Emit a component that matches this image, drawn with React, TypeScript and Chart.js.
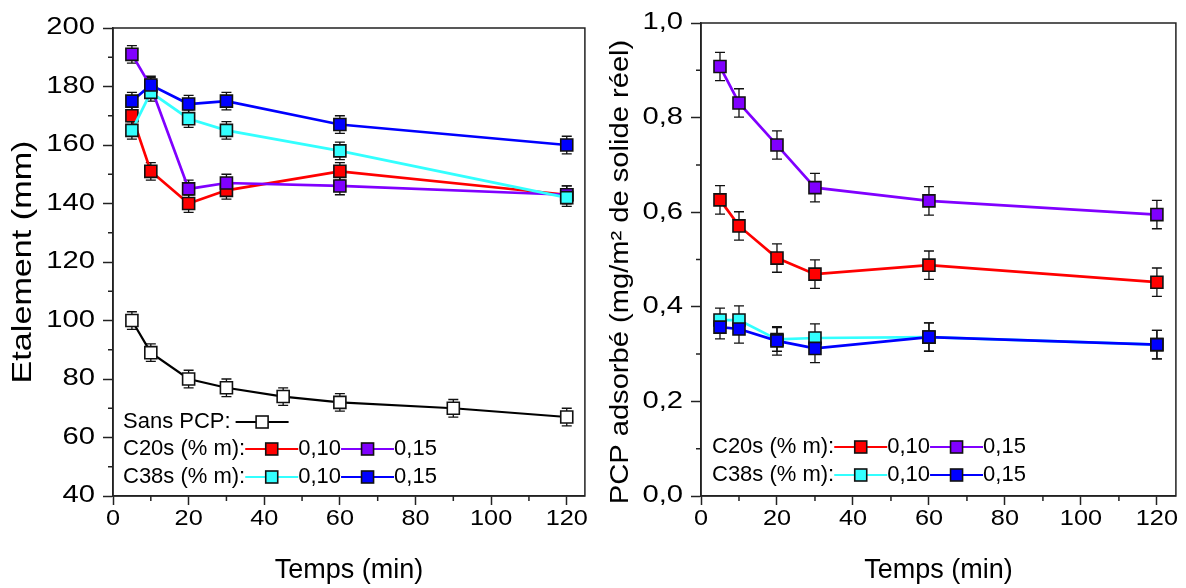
import React, { useEffect, useRef } from 'react';
import { Chart, registerables } from 'chart.js';

Chart.register(...registerables);

const FONT = '"Liberation Sans", Arial, Helvetica, sans-serif';

// ---------- Data: left panel (Etalement, mm) ----------
const timesSansPCP = [5, 10, 20, 30, 45, 60, 90, 120];
const etalSansPCP = [100, 89, 80, 77, 74, 72, 70, 67];
const errSansPCP = [3, 3, 3, 3, 3, 3, 3, 3];

const timesPCP = [5, 10, 20, 30, 60, 120];
const etalC20s010 = [170, 151, 140, 144.5, 151, 143];
const etalC20s015 = [191, 180, 145, 147, 146, 143];
const etalC38s010 = [165, 178, 169, 165, 158, 142];
const etalC38s015 = [175, 180.5, 174, 175, 167, 160];
const errEtalC20s010 = [3, 3, 3, 3, 3, 3];
const errEtalC20s015 = [3, 3, 3, 3, 3, 3];
const errEtalC38s010 = [3, 3, 3, 3, 3, 3];
const errEtalC38s015 = [3, 3, 3, 3, 3, 3];

// ---------- Data: right panel (PCP adsorbé, mg/m²) ----------
const adsC20s010 = [0.626, 0.571, 0.503, 0.469, 0.488, 0.452];
const adsC20s015 = [0.908, 0.831, 0.742, 0.652, 0.624, 0.595];
const adsC38s010 = [0.372, 0.372, 0.331, 0.334, 0.336, 0.32];
const adsC38s015 = [0.357, 0.353, 0.328, 0.312, 0.336, 0.32];
const errAdsC20s010 = [0.03, 0.03, 0.03, 0.03, 0.03, 0.03];
const errAdsC20s015 = [0.03, 0.03, 0.03, 0.03, 0.03, 0.03];
const errAdsC38s010 = [0.025, 0.03, 0.025, 0.03, 0.03, 0.03];
const errAdsC38s015 = [0.025, 0.03, 0.03, 0.03, 0.03, 0.03];

// ---------- Ticks & labels ----------
const xTicks = [0, 20, 40, 60, 80, 100, 120];
const xMinorTicks = [10, 30, 50, 70, 90, 110];
const yTicksLeft = [40, 60, 80, 100, 120, 140, 160, 180, 200];
const yMinorLeft = [50, 70, 90, 110, 130, 150, 170, 190];
const yTicksRight = [0, 0.2, 0.4, 0.6, 0.8, 1.0];
const yMinorRight = [0.1, 0.3, 0.5, 0.7, 0.9];

const xTitle = 'Temps (min)';
const yTitleLeft = 'Etalement (mm)';
const yTitleRight = 'PCP adsorbé (mg/m² de solide réel)';
const legendSans = 'Sans PCP:';
const legendC20s = 'C20s (% m):';
const legendC38s = 'C38s (% m):';
const legendLow = '0,10';
const legendHigh = '0,15';

const RED = '#ff0000';
const PURPLE = '#8000ff';
const CYAN = '#33ffff';
const BLUE = '#0000ff';
const BLACK = '#000000';

const pts = (xs: number[], ys: number[]) => xs.map((x, i) => ({ x, y: ys[i] }));

function mkDataset(label: string, xs: number[], ys: number[], errs: number[], line: string, fill: string) {
  return {
    label,
    data: pts(xs, ys),
    errors: errs,
    borderColor: line,
    backgroundColor: fill,
    borderWidth: 2.7,
    pointStyle: 'rect',
    pointRadius: 8.5,
    pointBorderColor: '#111',
    pointBackgroundColor: fill,
    pointBorderWidth: 1.6,
    tension: 0,
    fill: false,
  } as any;
}

type LegendItem = { text?: string; line?: string; fill?: string; gap?: number };

function drawMarker(ctx: CanvasRenderingContext2D, x: number, y: number, fill: string) {
  const s = 12;
  ctx.fillStyle = fill;
  ctx.fillRect(x - s / 2, y - s / 2, s, s);
  ctx.strokeStyle = '#111';
  ctx.lineWidth = 1.6;
  ctx.strokeRect(x - s / 2, y - s / 2, s, s);
}

function makeDecor(p: {
  yTicks: number[];
  yFmt: (v: number) => string;
  yMinor: number[];
  yTitle: string;
  yTitleX: number;
  yTitleY: number;
  yTitleSize: number;
  yTitleStretch: number;
  legendX: number;
  legendRows: { y: number; items: LegendItem[] }[];
}) {
  return {
    id: 'decor',
    beforeDatasetsDraw(chart: any) {
      const ctx = chart.ctx as CanvasRenderingContext2D;
      const ys = chart.scales.y;
      ctx.save();
      ctx.strokeStyle = '#111';
      ctx.lineWidth = 1.3;
      chart.data.datasets.forEach((ds: any, di: number) => {
        const meta = chart.getDatasetMeta(di);
        ds.data.forEach((d: any, i: number) => {
          const el = meta.data[i];
          if (!el) return;
          const e = ds.errors[i];
          const yt = ys.getPixelForValue(d.y + e);
          const yb = ys.getPixelForValue(d.y - e);
          const x = el.x;
          ctx.beginPath();
          ctx.moveTo(x, yt);
          ctx.lineTo(x, yb);
          ctx.moveTo(x - 5, yt);
          ctx.lineTo(x + 5, yt);
          ctx.moveTo(x - 5, yb);
          ctx.lineTo(x + 5, yb);
          ctx.stroke();
        });
      });
      ctx.restore();
    },
    afterDraw(chart: any) {
      const ctx = chart.ctx as CanvasRenderingContext2D;
      const a = chart.chartArea;
      const xs = chart.scales.x;
      const ys = chart.scales.y;
      ctx.save();
      // frame
      ctx.strokeStyle = '#222';
      ctx.lineWidth = 1.5;
      ctx.strokeRect(a.left, a.top, a.right - a.left, a.bottom - a.top);
      // minor ticks
      ctx.beginPath();
      xMinorTicks.forEach((v) => {
        const x = xs.getPixelForValue(v);
        ctx.moveTo(x, a.bottom);
        ctx.lineTo(x, a.bottom + 5);
      });
      p.yMinor.forEach((v) => {
        const y = ys.getPixelForValue(v);
        ctx.moveTo(a.left, y);
        ctx.lineTo(a.left - 5, y);
      });
      ctx.stroke();
      ctx.fillStyle = '#000';
      // y tick labels (slightly wide, as in the reference)
      ctx.font = `23px ${FONT}`;
      ctx.textAlign = 'right';
      ctx.textBaseline = 'middle';
      p.yTicks.forEach((v) => {
        const y = ys.getPixelForValue(v);
        ctx.save();
        ctx.translate(a.left - 18, y);
        ctx.scale(1.27, 1);
        ctx.fillText(p.yFmt(v), 0, 0);
        ctx.restore();
      });
      // x tick labels
      ctx.font = `22px ${FONT}`;
      ctx.textAlign = 'center';
      ctx.textBaseline = 'middle';
      xTicks.forEach((v) => {
        const x = xs.getPixelForValue(v);
        ctx.save();
        ctx.translate(x, a.bottom + 23);
        ctx.scale(1.15, 1);
        ctx.fillText(String(v), 0, 0);
        ctx.restore();
      });
      // y title (slightly stretched along its length)
      ctx.font = `${p.yTitleSize}px ${FONT}`;
      ctx.textAlign = 'center';
      ctx.textBaseline = 'middle';
      ctx.save();
      ctx.translate(p.yTitleX, p.yTitleY);
      ctx.rotate(-Math.PI / 2);
      ctx.scale(p.yTitleStretch, 1);
      ctx.fillText(p.yTitle, 0, 0);
      ctx.restore();
      // legend
      ctx.font = `22px ${FONT}`;
      ctx.textAlign = 'left';
      ctx.textBaseline = 'middle';
      p.legendRows.forEach((row) => {
        let cx = p.legendX;
        row.items.forEach((it) => {
          if (it.text) {
            ctx.fillStyle = '#000';
            ctx.fillText(it.text, cx, row.y);
            cx += ctx.measureText(it.text).width;
          } else if (it.line) {
            cx += it.gap || 0;
            const w = 53;
            ctx.strokeStyle = it.line;
            ctx.lineWidth = 2;
            ctx.beginPath();
            ctx.moveTo(cx, row.y);
            ctx.lineTo(cx + w, row.y);
            ctx.stroke();
            drawMarker(ctx, cx + w / 2, row.y, it.fill || '#fff');
            cx += w + (it.gap || 0);
          }
        });
      });
      ctx.restore();
    },
  };
}

function makeConfig(p: {
  datasets: any[];
  xMax: number;
  yMin: number;
  yMax: number;
  yTicks: number[];
  padTop: number;
  padRight: number;
  yAxisWidth: number;
  xAxisHeight: number;
  decor: any;
}) {
  const gridCommon = {
    display: true,
    drawOnChartArea: false,
    drawTicks: true,
    tickLength: 10,
    tickColor: '#222',
    tickWidth: 1.5,
  };
  return {
    type: 'line',
    data: { datasets: p.datasets },
    plugins: [p.decor],
    options: {
      animation: false,
      responsive: false,
      maintainAspectRatio: false,
      layout: { padding: { top: p.padTop, right: p.padRight, left: 0, bottom: 0 } },
      plugins: { legend: { display: false }, tooltip: { enabled: false }, title: { display: false } },
      scales: {
        x: {
          type: 'linear',
          min: 0,
          max: p.xMax,
          afterBuildTicks: (s: any) => {
            s.ticks = xTicks.map((v) => ({ value: v }));
          },
          afterFit: (s: any) => {
            s.height = p.xAxisHeight;
          },
          ticks: { display: false },
          grid: { ...gridCommon, tickLength: 9 },
          border: { display: true, color: '#222', width: 1.5 },
          title: {
            display: true,
            text: xTitle,
            color: '#000',
            font: { family: FONT, size: 27 },
            padding: { top: 0, bottom: 1 },
          },
        },
        y: {
          type: 'linear',
          min: p.yMin,
          max: p.yMax,
          afterBuildTicks: (s: any) => {
            s.ticks = p.yTicks.map((v) => ({ value: v }));
          },
          afterFit: (s: any) => {
            s.width = p.yAxisWidth;
          },
          ticks: { display: false },
          grid: { ...gridCommon },
          border: { display: true, color: '#222', width: 1.5 },
          title: { display: false },
        },
      },
    },
  } as any;
}

function ChartPanel({ left, width, height, config }: { left: number; width: number; height: number; config: any }) {
  const ref = useRef<HTMLCanvasElement | null>(null);
  useEffect(() => {
    if (!ref.current) return;
    const chart = new Chart(ref.current, config);
    return () => chart.destroy();
  }, [config]);
  return (
    <canvas
      ref={ref}
      width={width}
      height={height}
      style={{ position: 'absolute', left, top: 0, width, height, display: 'block' }}
    />
  );
}

const leftDatasets = [
  mkDataset('C38s 0,15', timesPCP, etalC38s015, errEtalC38s015, BLUE, BLUE),
  mkDataset('C38s 0,10', timesPCP, etalC38s010, errEtalC38s010, CYAN, CYAN),
  mkDataset('C20s 0,15', timesPCP, etalC20s015, errEtalC20s015, PURPLE, PURPLE),
  mkDataset('C20s 0,10', timesPCP, etalC20s010, errEtalC20s010, RED, RED),
  { ...mkDataset('Sans PCP', timesSansPCP, etalSansPCP, errSansPCP, BLACK, '#ffffff'), borderWidth: 2.2 },
];

const rightDatasets = [
  mkDataset('C38s 0,15', timesPCP, adsC38s015, errAdsC38s015, BLUE, BLUE),
  mkDataset('C38s 0,10', timesPCP, adsC38s010, errAdsC38s010, CYAN, CYAN),
  mkDataset('C20s 0,15', timesPCP, adsC20s015, errAdsC20s015, PURPLE, PURPLE),
  mkDataset('C20s 0,10', timesPCP, adsC20s010, errAdsC20s010, RED, RED),
];

const LEFT_W = 595;
const RIGHT_W = 591;
const H = 588;

const fmtInt = (v: number) => String(v);
const fmtComma = (v: number) => v.toFixed(1).replace('.', ',');

const leftConfig = makeConfig({
  datasets: leftDatasets,
  xMax: 124.8,
  yMin: 40,
  yMax: 200,
  yTicks: yTicksLeft,
  padTop: 28,
  padRight: LEFT_W - 585,
  yAxisWidth: 113,
  xAxisHeight: H - 496,
  decor: makeDecor({
    yTicks: yTicksLeft,
    yFmt: fmtInt,
    yMinor: yMinorLeft,
    yTitle: yTitleLeft,
    yTitleX: 23,
    yTitleY: 262,
    yTitleSize: 28,
    yTitleStretch: 1.22,
    legendX: 123,
    legendRows: [
      { y: 422, items: [{ text: legendSans }, { line: BLACK, fill: '#ffffff', gap: 5 }] },
      {
        y: 449,
        items: [
          { text: legendC20s },
          { line: RED, fill: RED },
          { text: legendLow },
          { line: PURPLE, fill: PURPLE },
          { text: legendHigh },
        ],
      },
      {
        y: 477,
        items: [
          { text: legendC38s },
          { line: CYAN, fill: CYAN },
          { text: legendLow },
          { line: BLUE, fill: BLUE },
          { text: legendHigh },
        ],
      },
    ],
  }),
});

const rightConfig = makeConfig({
  datasets: rightDatasets,
  xMax: 125,
  yMin: 0,
  yMax: 1,
  yTicks: yTicksRight,
  padTop: 23,
  padRight: RIGHT_W - (1176 - LEFT_W),
  yAxisWidth: 701 - LEFT_W,
  xAxisHeight: H - 496,
  decor: makeDecor({
    yTicks: yTicksRight,
    yFmt: fmtComma,
    yMinor: yMinorRight,
    yTitle: yTitleRight,
    yTitleX: 621 - LEFT_W,
    yTitleY: 272,
    yTitleSize: 26,
    yTitleStretch: 1.12,
    legendX: 712 - LEFT_W,
    legendRows: [
      {
        y: 447,
        items: [
          { text: legendC20s },
          { line: RED, fill: RED },
          { text: legendLow },
          { line: PURPLE, fill: PURPLE },
          { text: legendHigh },
        ],
      },
      {
        y: 475,
        items: [
          { text: legendC38s },
          { line: CYAN, fill: CYAN },
          { text: legendLow },
          { line: BLUE, fill: BLUE },
          { text: legendHigh },
        ],
      },
    ],
  }),
});

export default function App() {
  return (
    <div style={{ position: 'fixed', left: 0, top: 0, width: 1186, height: H, background: '#fff', overflow: 'hidden' }}>
      <ChartPanel left={0} width={LEFT_W} height={H} config={leftConfig} />
      <ChartPanel left={LEFT_W} width={RIGHT_W} height={H} config={rightConfig} />
    </div>
  );
}
